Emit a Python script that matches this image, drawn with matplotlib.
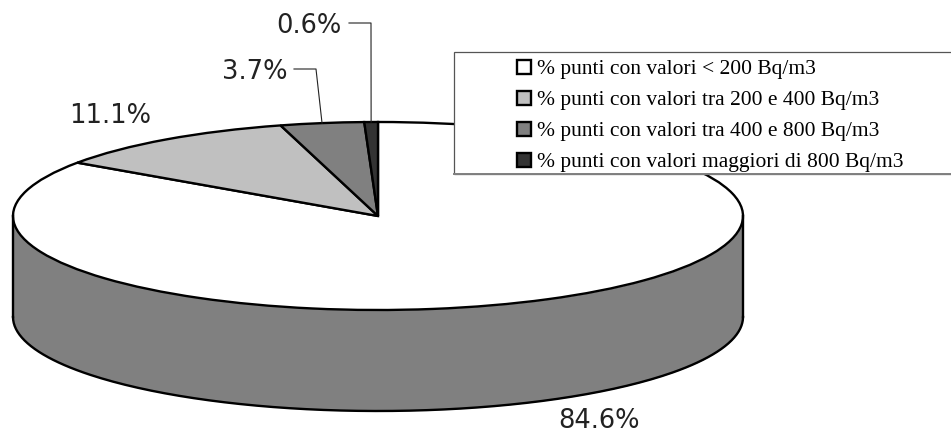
import numpy as np
import matplotlib
matplotlib.use('Agg')
import matplotlib.pyplot as plt
from matplotlib.patches import Rectangle

labels = ['% punti con valori < 200 Bq/m3',
          '% punti con valori tra 200 e 400 Bq/m3',
          '% punti con valori tra 400 e 800 Bq/m3',
          '% punti con valori maggiori di 800 Bq/m3']
values = [84.6, 11.1, 3.7, 0.6]
colors = ['#ffffff', '#c0c0c0', '#808080', '#333333']

# pie geometry in pixels of the 951x434 picture
cx, cy = 378, 216
rx, ry = 365, 94
depth = 101
lw = 1.7

fig = plt.figure(figsize=(9.51, 4.34), dpi=100)

# pie axes: radius 1 is squashed to rx, ry by the limits
ax = fig.add_axes([0, 0, 1, 1])
ax.set_axis_off()

# side wall, lower half of the rim
d = depth / ry
t = np.linspace(np.pi, 2 * np.pi, 200)
ax.fill_between(np.cos(t), np.sin(t), np.sin(t) - d, color='#808080', lw=0)
ax.plot(np.cos(t), np.sin(t) - d, color='k', lw=lw)
ax.plot([-1, -1], [0, -d], color='k', lw=lw)
ax.plot([1, 1], [0, -d], color='k', lw=lw)

wedges, _ = ax.pie(values, colors=colors, startangle=90, counterclock=False,
                   radius=1, wedgeprops={'edgecolor': 'k', 'linewidth': lw})
ax.set_aspect('auto')
ax.set_xlim((0 - cx) / rx, (951 - cx) / rx)
ax.set_ylim((cy - 434) / ry, (cy - 0) / ry)

# overlay in pixel coordinates for the box, labels and leaders
ov = fig.add_axes([0, 0, 1, 1])
ov.set_axis_off()
ov.patch.set_alpha(0)
ov.set_xlim(0, 951)
ov.set_ylim(434, 0)

ov.add_patch(Rectangle((454, 52), 520, 122, fc='white', ec='#555555', lw=0.9, clip_on=True))
ov.plot([454, 951], [174, 174], color='#808080', lw=1.4)

leg = ov.legend(wedges, labels, loc='upper left', bbox_to_anchor=(517 / 951, 1 - 59.5 / 434),
                frameon=False, borderpad=0, borderaxespad=0,
                prop={'family': 'Liberation Serif', 'size': 15.5},
                handlelength=0.66, handleheight=0.66, handletextpad=0.27, labelspacing=0.52)
for h in leg.get_patches():
    h.set_linewidth(1.7)

lab_font = {'family': 'DejaVu Sans', 'size': 18.5, 'color': '#222222'}


def rim(pct):
    # point on the top rim, pct percent counterclockwise from the top
    a = np.deg2rad(pct * 3.6)
    return cx - rx * np.sin(a), cy - ry * np.cos(a)


ov.text(558, 428, '%.1f%%' % values[0], ha='left', va='baseline', **lab_font)
ov.text(69, 123, '%.1f%%' % values[1], ha='left', va='baseline', **lab_font)
ov.text(222, 79, '%.1f%%' % values[2], ha='left', va='baseline', **lab_font)
ov.text(276, 33, '%.1f%%' % values[3], ha='left', va='baseline', **lab_font)

# leaders, elbow above the slice middle
x3, y3 = rim(values[3] + values[2] / 2)
x4, y4 = rim(values[3] / 2)
ov.plot([294, 316, x3], [69, 69, y3], color='#222222', lw=0.8)
ov.plot([349, 371, x4], [23, 23, y4], color='#222222', lw=0.8)

fig.savefig('out.png', dpi=100)
